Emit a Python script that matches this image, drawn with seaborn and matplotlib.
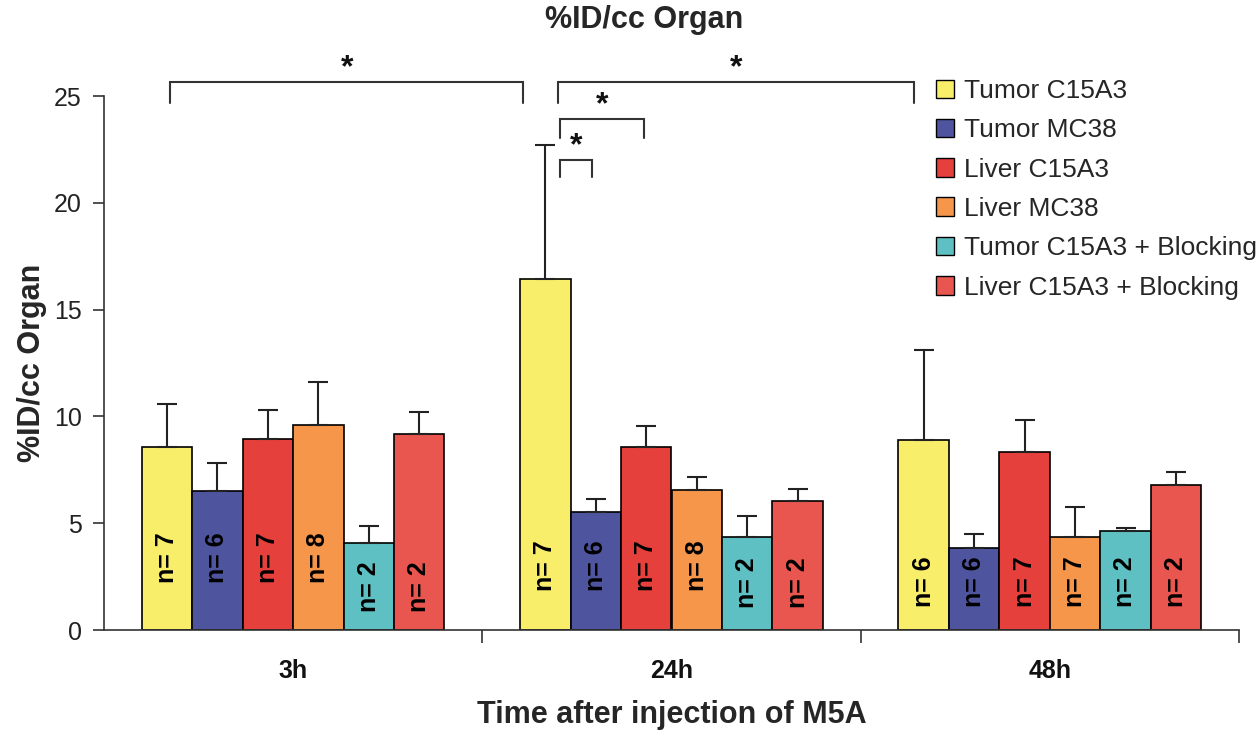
import numpy as np
import pandas as pd
import seaborn as sns
import matplotlib.pyplot as plt
from matplotlib.patches import Patch

# data
times = ['3h', '24h', '48h']
series = ['Tumor C15A3', 'Tumor MC38', 'Liver C15A3', 'Liver MC38',
          'Tumor C15A3 + Blocking', 'Liver C15A3 + Blocking']
colors = ['#F8EE6A', '#4E559E', '#E5403B', '#F5964B', '#5EC0C3', '#E8564F']

tumor_c15a3 = [8.58, 16.45, 8.9]
tumor_mc38 = [6.5, 5.53, 3.84]
liver_c15a3 = [8.94, 8.58, 8.35]
liver_mc38 = [9.62, 6.57, 4.34]
tumor_block = [4.08, 4.36, 4.63]
liver_block = [9.18, 6.05, 6.79]

err_tumor_c15a3 = [2.0, 6.25, 4.2]
err_tumor_mc38 = [1.32, 0.58, 0.65]
err_liver_c15a3 = [1.35, 0.98, 1.48]
err_liver_mc38 = [2.0, 0.6, 1.4]
err_tumor_block = [0.77, 0.97, 0.13]
err_liver_block = [1.01, 0.54, 0.59]

n_tumor_c15a3 = [7, 7, 6]
n_tumor_mc38 = [6, 6, 6]
n_liver_c15a3 = [7, 7, 7]
n_liver_mc38 = [8, 8, 7]
n_tumor_block = [2, 2, 2]
n_liver_block = [2, 2, 2]

# significance brackets (x in category units, y in %ID/cc)
br_x0 = [-0.325, 0.70, 0.706, 0.706]
br_x1 = [0.608, 1.64, 0.926, 0.791]
br_y = [25.66, 25.66, 23.92, 22.0]
br_drop = [1.0, 1.0, 0.9, 0.8]

values = [tumor_c15a3, tumor_mc38, liver_c15a3, liver_mc38, tumor_block, liver_block]
errs = [err_tumor_c15a3, err_tumor_mc38, err_liver_c15a3, err_liver_mc38, err_tumor_block, err_liver_block]
ns = [n_tumor_c15a3, n_tumor_mc38, n_liver_c15a3, n_liver_mc38, n_tumor_block, n_liver_block]

rows = []
for s, v in zip(series, values):
    for t, val in zip(times, v):
        rows.append({'time': t, 'series': s, 'value': val})
df = pd.DataFrame(rows)

sns.set_theme(style='white')
plt.rcParams['font.family'] = ['Liberation Sans', 'DejaVu Sans']

fig = plt.figure(figsize=(12.59, 7.31), dpi=100)
ax = fig.add_axes([104/1259, 1-630/731, (1239-104)/1259, (630-96)/731])

sns.barplot(data=df, x='time', y='value', hue='series', palette=colors,
            saturation=1, edgecolor='black', linewidth=1.2, errorbar=None,
            width=0.8, ax=ax, legend=False)

# n= label height per group (lower for the short blocking bars)
lab_y = {0: [3.4, 3.4, 3.4, 3.4, 2.05, 2.05],
         1: [3.0, 3.0, 3.0, 3.0, 2.2, 2.2],
         2: [2.25] * 6}

bar_groups = list(ax.containers)
for i, cont in enumerate(bar_groups):
    for j, bar in enumerate(cont):
        xc = bar.get_x() + bar.get_width() / 2
        h = bar.get_height()
        ax.errorbar(xc, h, yerr=[[0], [errs[i][j]]], fmt='none', ecolor='#222222',
                    elinewidth=1.5, capsize=7, capthick=1.5, zorder=1)
        ax.text(xc, lab_y[j][i], 'n= %d' % ns[i][j], rotation=90, ha='center', va='center',
                fontsize=18, fontweight='bold', color='black')

for x0, x1, y, d in zip(br_x0, br_x1, br_y, br_drop):
    ax.plot([x0, x0, x1, x1], [y - d, y, y, y - d], color='#333333', lw=1.5,
            clip_on=False, solid_joinstyle='miter')
    ax.text((x0 + x1) / 2, y - 0.05, '*', ha='center', va='bottom', fontsize=23,
            fontweight='bold', color='#111111', clip_on=False)

ax.set_xlim(-0.5, 2.5)
ax.set_ylim(0, 25)
ax.set_yticks([0, 5, 10, 15, 20, 25])
ax.tick_params(axis='y', labelsize=18, length=8, width=1.2, direction='out', left=True,
               colors='#333333', labelcolor='#222222', pad=8)
ax.tick_params(axis='x', which='major', length=0, labelsize=18, pad=21, labelcolor='#111111')
ax.set_xticks([0.5, 1.5, 2.5], minor=True)
ax.tick_params(axis='x', which='minor', length=9, width=1.2, direction='out', bottom=True,
               colors='#333333')
for lab in ax.get_xticklabels():
    lab.set_fontweight('bold')

sns.despine(ax=ax)
for sp in ['left', 'bottom']:
    ax.spines[sp].set_color('#333333')
    ax.spines[sp].set_linewidth(1.2)

ax.set_xlabel('Time after injection of M5A', fontsize=22, fontweight='bold', labelpad=12)
ax.set_ylabel('%ID/cc Organ', fontsize=22, fontweight='bold', labelpad=5)
fig.text(644/1259, 1-20/731, '%ID/cc Organ', ha='center', va='center',
         fontsize=22, fontweight='bold')

handles = [Patch(facecolor=c, edgecolor='black', linewidth=1.0) for c in colors]
ax.legend(handles, series, loc='upper left', bbox_to_anchor=(936/1259, 1-79/731),
          bbox_transform=fig.transFigure, frameon=False, fontsize=19,
          handlelength=0.7, handleheight=0.7, handletextpad=0.35,
          labelspacing=0.58, borderpad=0, borderaxespad=0)

fig.savefig('out.png', dpi=100)
